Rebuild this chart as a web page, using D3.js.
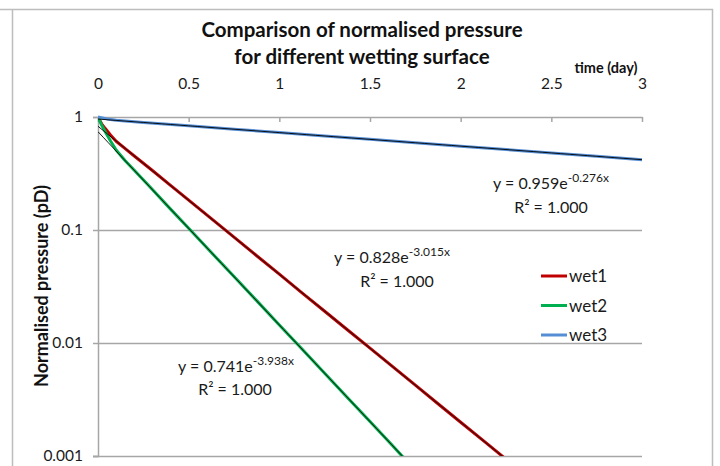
<!DOCTYPE html>
<html>
<head>
<meta charset="utf-8">
<script src="https://cdn.jsdelivr.net/npm/d3@7"></script>
<style>
  html, body { margin: 0; padding: 0; background: #fff; }
  svg { display: block; font-family: Lato, "Open Sans", sans-serif; }
</style>
</head>
<body>
<svg id="chart" width="720" height="466"></svg>
<script>
// Measured normalised pressure (pD) against time (day)
const timeWet1 = [0, 0.01, 0.02, 0.04, 0.07, 0.1, 0.15, 0.2, 0.3, 0.4, 0.5, 0.625, 0.75, 0.875, 1.0, 1.125, 1.25, 1.375, 1.5, 1.625, 1.75, 1.875, 2.0, 2.125, 2.25];
const wet1 = [1.0, 0.93, 0.87, 0.79, 0.69, 0.61, 0.525, 0.452, 0.336, 0.248, 0.184, 0.126, 0.0865, 0.0592, 0.0407, 0.0278, 0.0191, 0.0131, 0.00901, 0.00617, 0.00424, 0.00290, 0.00199, 0.00137, 0.000937];

const timeWet2 = [0, 0.01, 0.02, 0.04, 0.07, 0.1, 0.15, 0.2, 0.3, 0.4, 0.5, 0.625, 0.75, 0.875, 1.0, 1.125, 1.25, 1.375, 1.5, 1.625, 1.7];
const wet2 = [1.0, 0.92, 0.85, 0.74, 0.61, 0.51, 0.41, 0.338, 0.228, 0.153, 0.1035, 0.0632, 0.0387, 0.0237, 0.01445, 0.00884, 0.00540, 0.00330, 0.00202, 0.00123, 0.00091];

const timeWet3 = [0, 0.05, 0.1, 0.25, 0.5, 0.75, 1.0, 1.25, 1.5, 1.75, 2.0, 2.25, 2.5, 2.75, 3.0];
const wet3 = [1.0, 0.962, 0.936, 0.894, 0.835, 0.779, 0.728, 0.679, 0.634, 0.592, 0.552, 0.515, 0.481, 0.449, 0.419];

// Exponential trendline coefficients: y = a * e^(b x)
const fitA = [0.828, 0.741, 0.959];
const fitB = [-3.015, -3.938, -0.276];
const fitLabels = ["y = 0.828e", "y = 0.741e", "y = 0.959e"];
const fitExps = ["-3.015x", "-3.938x", "-0.276x"];
const r2Labels = ["R² = 1.000", "R² = 1.000", "R² = 1.000"];

const seriesNames = ["wet1", "wet2", "wet3"];
const seriesColors = ["#C00000", "#00B050", "#558ED5"];

const xTicks = [0, 0.5, 1, 1.5, 2, 2.5, 3];
const yTicks = [1, 0.1, 0.01, 0.001];
const yTickLabels = ["1", "0.1", "0.01", "0.001"];

const titleLines = ["Comparison of normalised pressure", "for different  wetting surface"];
const xTitle = "time (day)";
const yTitle = "Normalised pressure (pD)";

const svg = d3.select("#chart");
const plot = { left: 98, right: 642, top: 117, bottom: 456 };

const x = d3.scaleLinear().domain([0, 3]).range([plot.left, plot.right]);
const y = d3.scaleLog().domain([0.001, 1]).range([plot.bottom, plot.top]);

// chart frame
svg.append("path")
  .attr("d", `M0,9.5H712.5V466 M12.5,9.5V466`)
  .attr("fill", "none").attr("stroke", "#bdbdbd").attr("stroke-width", 1.5);

// horizontal gridlines
svg.append("g").selectAll("line").data(yTicks.slice(1, 3)).join("line")
  .attr("x1", plot.left).attr("x2", plot.right)
  .attr("y1", d => Math.round(y(d)) + 0.5).attr("y2", d => Math.round(y(d)) + 0.5)
  .attr("stroke", "#a6a6a6").attr("stroke-width", 1.5);

// y axis (left)
const yAxis = svg.append("g").attr("transform", `translate(${plot.left},0)`)
  .call(d3.axisLeft(y).tickValues(yTicks).tickFormat((d, i) => yTickLabels[i]).tickSize(5).tickPadding(10));
yAxis.select(".domain").attr("stroke", "#a6a6a6").attr("stroke-width", 1.5);
yAxis.selectAll(".tick line").attr("stroke", "#a6a6a6").attr("stroke-width", 1.5);
yAxis.selectAll(".tick text").attr("font-size", 15.5).attr("fill", "#1a1a1a").attr("font-family", "Lato");

// bottom frame line of plot area
svg.append("line").attr("x1", plot.left - 5).attr("x2", plot.right)
  .attr("y1", plot.bottom + 0.5).attr("y2", plot.bottom + 0.5)
  .attr("stroke", "#a6a6a6").attr("stroke-width", 1.5);

// x axis drawn along the top at y = 1, ticks pointing into the plot
const xAxis = svg.append("g").attr("transform", `translate(0,${plot.top})`)
  .call(d3.axisTop(x).tickValues(xTicks).tickFormat(d3.format("")).tickSizeInner(-5).tickSizeOuter(0).tickPadding(28));
xAxis.select(".domain").attr("stroke", "#a6a6a6").attr("stroke-width", 1.5);
xAxis.selectAll(".tick line").attr("stroke", "#a6a6a6").attr("stroke-width", 1.5);
xAxis.selectAll(".tick text").attr("font-size", 15.5).attr("fill", "#1a1a1a").attr("font-family", "Lato");

// clip to plot
svg.append("clipPath").attr("id", "plotclip").append("rect")
  .attr("x", plot.left).attr("y", plot.top - 3).attr("width", plot.right - plot.left + 3).attr("height", plot.bottom - plot.top + 3);

const lineGen = d3.line().x(d => x(d[0])).y(d => y(d[1]));
const dataSets = [
  d3.zip(timeWet1, wet1),
  d3.zip(timeWet2, wet2),
  d3.zip(timeWet3, wet3)
];

const g = svg.append("g").attr("clip-path", "url(#plotclip)");
dataSets.forEach((pts, i) => {
  g.append("path").datum(pts)
    .attr("d", lineGen)
    .attr("fill", "none").attr("stroke", seriesColors[i]).attr("stroke-width", 3)
    .attr("stroke-linejoin", "round");
});

// exponential trendlines
fitA.forEach((a, i) => {
  const b = fitB[i];
  const tCross = Math.log(0.0009 / a) / b;
  const tEnd = Math.min(3, tCross);
  const pts = d3.range(0, 61).map(k => {
    const t = tEnd * k / 60;
    return [t, a * Math.exp(b * t)];
  });
  g.append("path").datum(pts)
    .attr("d", lineGen)
    .attr("fill", "none").attr("stroke", "#000").attr("stroke-width", 0.9);
});

// trendline equations
const eqPos = [[392, 263, 397, 287], [236, 372, 235, 395], [551, 189, 551, 213]];
fitLabels.forEach((lab, i) => {
  const [ex, ey, rx, ry] = eqPos[i];
  const t = svg.append("text").attr("x", ex).attr("y", ey)
    .attr("text-anchor", "middle").attr("font-size", 16).attr("fill", "#1a1a1a");
  t.append("tspan").text(lab);
  t.append("tspan").attr("dy", -7).attr("font-size", 12).text(fitExps[i]);
  svg.append("text").attr("x", rx).attr("y", ry)
    .attr("text-anchor", "middle").attr("font-size", 16).attr("fill", "#1a1a1a")
    .text(r2Labels[i]);
});

// legend
const legend = svg.append("g");
seriesNames.forEach((name, i) => {
  const ly = 276 + i * 29.5;
  legend.append("line").attr("x1", 541).attr("x2", 567).attr("y1", ly).attr("y2", ly)
    .attr("stroke", seriesColors[i]).attr("stroke-width", 3);
  legend.append("text").attr("x", 569).attr("y", ly + 6)
    .attr("font-size", 17).attr("fill", "#1a1a1a").text(name);
});

// titles
titleLines.forEach((t, i) => {
  svg.append("text").attr("x", 362).attr("y", 37 + i * 26.5)
    .attr("text-anchor", "middle").attr("font-size", 20.5).attr("font-weight", "bold")
    .attr("fill", "#111").text(t);
});
svg.append("text").attr("x", 606).attr("y", 73)
  .attr("text-anchor", "middle").attr("font-size", 14.5).attr("font-weight", "bold")
  .attr("fill", "#111").text(xTitle);
svg.append("text")
  .attr("transform", `translate(48,286) rotate(-90)`)
  .attr("text-anchor", "middle").attr("font-size", 18).attr("font-weight", "bold")
  .attr("fill", "#111").text(yTitle);
</script>
</body>
</html>
